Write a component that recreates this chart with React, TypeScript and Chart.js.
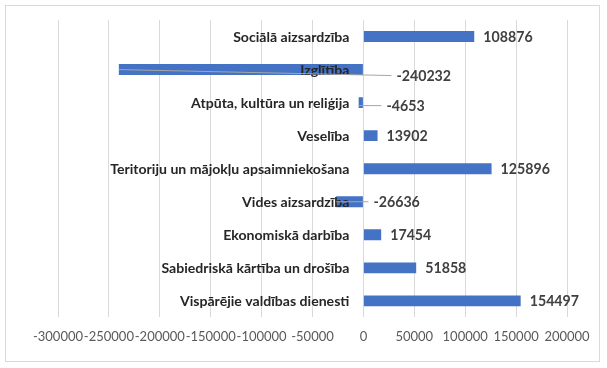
import React, { useEffect, useRef } from "react";
import { Chart, registerables } from "chart.js";

Chart.register(...registerables);

const categories = [
  "Sociālā aizsardzība",
  "Izglītība",
  "Atpūta, kultūra un reliģija",
  "Veselība",
  "Teritoriju un mājokļu apsaimniekošana",
  "Vides aizsardzība",
  "Ekonomiskā darbība",
  "Sabiedriskā kārtība un drošība",
  "Vispārējie valdības dienesti",
];

const values = [108876, -240232, -4653, 13902, 125896, -26636, 17454, 51858, 154497];

const axisMin = -300000;
const axisMax = 200000;
const axisStep = 50000;

const BAR_COLOR = "#4472C4";

// manual placement of negative labels (relative to zero line), like in the original
const negLabelPlacement: Record<number, { dx: number; dy: number }> = {
  1: { dx: 33, dy: 6 },
  2: { dx: 23, dy: 3 },
  5: { dx: 10, dy: 0 },
};

const framePlugin = {
  id: "frame",
  beforeDraw(chart: any) {
    const ctx = chart.ctx;
    ctx.save();
    ctx.fillStyle = "#ffffff";
    ctx.fillRect(0, 0, chart.width, chart.height);
    ctx.strokeStyle = "#d9d9d9";
    ctx.lineWidth = 1;
    ctx.strokeRect(5.5, 5.5, 594, 356);
    ctx.restore();
  },
};

const labelPlugin = {
  id: "customLabels",
  afterDatasetsDraw(chart: any) {
    const ctx = chart.ctx;
    const xs = chart.scales.x;
    const ys = chart.scales.y;
    const zero = xs.getPixelForValue(0);
    ctx.save();
    ctx.textBaseline = "middle";

    // category labels next to the zero line
    ctx.font = "bold 14.1px Lato";
    ctx.fillStyle = "#262626";
    ctx.textAlign = "right";
    categories.forEach((c, i) => {
      ctx.fillText(c, zero - 14, ys.getPixelForValue(i) + 1);
    });

    // value labels
    ctx.font = "bold 14.2px Lato";
    ctx.textAlign = "left";
    values.forEach((v, i) => {
      const yc = ys.getPixelForValue(i);
      const end = xs.getPixelForValue(v);
      const label = String(v);
      if (v >= 0) {
        ctx.fillStyle = "#404040";
        ctx.fillText(label, end + 9, yc + 1);
      } else {
        const p = negLabelPlacement[i] || { dx: 10, dy: 0 };
        const lx = zero + p.dx;
        const ly = yc + p.dy;
        ctx.strokeStyle = "#a6a6a6";
        ctx.lineWidth = 1;
        ctx.beginPath();
        ctx.moveTo(end, yc + (p.dy > 3 ? 0 : p.dy));
        ctx.lineTo(lx - 5, ly);
        ctx.stroke();
        ctx.fillStyle = "#404040";
        ctx.fillText(label, lx, ly + 1);
      }
    });
    ctx.restore();
  },
};

export default function App() {
  const canvasRef = useRef<HTMLCanvasElement | null>(null);

  useEffect(() => {
    document.body.style.margin = "0";
    const canvas = canvasRef.current;
    if (!canvas) return;
    const chart = new Chart(canvas, {
      type: "bar",
      data: {
        labels: categories,
        datasets: [
          {
            data: values,
            backgroundColor: BAR_COLOR,
            borderWidth: 0,
            barPercentage: 0.33,
            categoryPercentage: 1,
          },
        ],
      },
      options: {
        indexAxis: "y",
        responsive: false,
        animation: false,
        devicePixelRatio: 1,
        layout: {
          padding: { left: 58, right: 40, top: 20, bottom: 11 },
        },
        plugins: {
          legend: { display: false },
          tooltip: { enabled: false },
        },
        scales: {
          x: {
            type: "linear",
            min: axisMin,
            max: axisMax,
            position: "bottom",
            grid: { color: "#d9d9d9", drawTicks: false, lineWidth: 1 },
            border: { display: false },
            ticks: {
              stepSize: axisStep,
              color: "#595959",
              font: { family: "Lato", size: 13 },
              padding: 12,
              maxRotation: 0,
              autoSkip: false,
              callback: (v: any) => String(v),
            },
          },
          y: {
            type: "category",
            display: false,
            offset: true,
            grid: { display: false },
          },
        },
      },
      plugins: [framePlugin, labelPlugin],
    });
    return () => chart.destroy();
  }, []);

  return (
    <div style={{ position: "absolute", left: 0, top: 0, width: 607, height: 368 }}>
      <canvas ref={canvasRef} width={607} height={368} />
    </div>
  );
}
